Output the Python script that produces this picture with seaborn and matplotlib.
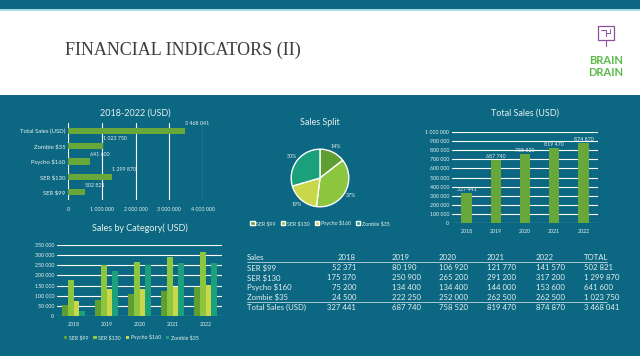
import matplotlib
matplotlib.use("Agg")
import matplotlib.pyplot as plt
from matplotlib.patches import Rectangle
import seaborn as sns
import pandas as pd

# data
years = ["2018", "2019", "2020", "2021", "2022"]
products = ["SER $99", "SER $130", "Psycho $160", "Zombie $35"]
ser99 = [52371, 80190, 106920, 121770, 141570]
ser130 = [175370, 250900, 265200, 291200, 317200]
psycho160 = [75200, 134400, 134400, 144000, 153600]
zombie35 = [24500, 222250, 252000, 262500, 262500]
total_by_year = [327441, 687740, 758520, 819470, 874870]
product_totals = [502821, 1299870, 641600, 1023750]
grand_total = 3468041

hbar_labels = ["Total Sales (USD)", "Zombie $35", "Psycho $160", "SER $130", "SER $99"]
hbar_values = [3468041, 1023750, 641600, 1299870, 502821]

teal = "#0c6882"
fg = "#e6f0ee"
green = "#68a83a"
palette = ["#5f9e33", "#8cc63f", "#c9d84a", "#1aa07a"]

sns.set_theme(style="white")
plt.rcParams["font.family"] = ["Lato", "DejaVu Sans"]

W, H = 640, 356
fig = plt.figure(figsize=(6.4, 3.56), dpi=100)


def px(x0, y0, x1, y1):
    return [x0 / W, 1 - y1 / H, (x1 - x0) / W, (y1 - y0) / H]


def fmt(v):
    return f"{v:,}".replace(",", " ")


# background bands
bg = fig.add_axes([0, 0, 1, 1])
bg.set_xlim(0, W)
bg.set_ylim(H, 0)
bg.axis("off")
bg.add_patch(Rectangle((0, 0), W, 9, color=teal, lw=0))
bg.add_patch(Rectangle((0, 9), W, 1.5, color="#a6dde4", lw=0))
bg.add_patch(Rectangle((0, 95), W, H - 95, color=teal, lw=0))
bg.text(65, 50, "FINANCIAL INDICATORS (II)", fontsize=13, color="#3b3f3f",
        family="Liberation Serif", va="center", ha="left")
# logo
purple = "#8a4fa0"
bg.add_patch(Rectangle((598, 26), 16, 14, fill=False, ec=purple, lw=0.9))
bg.plot([601, 606, 606], [30, 30, 36], color=purple, lw=0.7)
bg.plot([610, 610, 606], [29, 33, 33], color=purple, lw=0.7)
bg.plot([606, 606], [40, 46], color=purple, lw=0.8)
bg.text(606, 60, "BRAIN", fontsize=8, color="#5cb848", weight="bold", ha="center", va="center")
bg.text(606, 73, "DRAIN", fontsize=8, color="#5cb848", weight="bold", ha="center", va="center")


def style(ax):
    ax.set_facecolor("none")
    for s in ax.spines.values():
        s.set_visible(False)
    ax.tick_params(colors=fg, labelsize=3.8, length=0, pad=2)
    ax.set_xlabel("")
    ax.set_ylabel("")


# horizontal bar chart
ax1 = fig.add_axes(px(68, 123, 203, 200))
hdf = pd.DataFrame({"label": hbar_labels, "value": hbar_values})
sns.barplot(data=hdf, y="label", x="value", color=green, width=0.4, ax=ax1,
            zorder=3, linewidth=0, saturation=1)
style(ax1)
ax1.set_xlim(0, 4000000)
ax1.set_xticks([0, 1000000, 2000000, 3000000, 4000000])
ax1.set_xticklabels([fmt(v) for v in [0, 1000000, 2000000, 3000000, 4000000]])
ax1.xaxis.grid(True, color="white", lw=0.8)
ax1.tick_params(axis="y", labelsize=4.3)
ax1.tick_params(axis="x", pad=5)
for i, v in enumerate(hbar_values):
    ax1.text(v, i - 0.3, fmt(v), color=fg, fontsize=3.8, ha="left", va="bottom")
ax1.set_title("2018-2022 (USD)", color=fg, fontsize=6.5, pad=5)

# pie
ax2 = fig.add_axes(px(283, 142, 357, 214))
wedges, texts, autotexts = ax2.pie(
    product_totals, colors=palette, startangle=90, counterclock=False,
    autopct="%.0f%%", pctdistance=1.22,
    wedgeprops=dict(edgecolor="white", linewidth=1))
for t in autotexts:
    t.set_color(fg)
    t.set_fontsize(3.8)
ax2.set_aspect("equal")
ax2.set_title("Sales Split", color=fg, fontsize=6.5, pad=12)
fig.legend(wedges, products, loc="center", bbox_to_anchor=(320 / W, 1 - 223 / H),
           ncol=4, frameon=False, fontsize=3.8, labelcolor=fg, handlelength=0.8,
           handleheight=0.8, columnspacing=1.0, handletextpad=0.3)

# total sales chart
ax3 = fig.add_axes(px(452, 132, 598, 223))
tdf = pd.DataFrame({"year": years, "total": total_by_year})
sns.barplot(data=tdf, x="year", y="total", color=green, width=0.35, ax=ax3,
            zorder=3, linewidth=0, saturation=1)
style(ax3)
ticks3 = list(range(0, 1000001, 100000))
ax3.set_ylim(0, 1000000)
ax3.set_yticks(ticks3)
ax3.set_yticklabels([fmt(v) for v in ticks3])
ax3.yaxis.grid(True, color="white", lw=0.8, zorder=0)
ax3.tick_params(axis="x", pad=4)
for i, v in enumerate(total_by_year):
    ax3.text(i, v + 12000, fmt(v), color=fg, fontsize=3.8, ha="center", va="bottom", zorder=4)
ax3.set_title("Total Sales (USD)", color=fg, fontsize=6.5, pad=12)

# sales by category
ax4 = fig.add_axes(px(57, 245, 222, 316))
cdf = pd.DataFrame({"year": years * 4,
                    "series": [p for p in products for _ in years],
                    "value": ser99 + ser130 + psycho160 + zombie35})
sns.barplot(data=cdf, x="year", y="value", hue="series", hue_order=products,
            palette=palette, width=0.7, ax=ax4, zorder=3, linewidth=0, saturation=1)
style(ax4)
ticks4 = list(range(0, 350001, 50000))
ax4.set_ylim(0, 350000)
ax4.set_yticks(ticks4)
ax4.set_yticklabels([fmt(v) for v in ticks4])
ax4.yaxis.grid(True, color="white", lw=0.8, zorder=0)
ax4.tick_params(axis="x", pad=4)
ax4.legend(loc="center", bbox_to_anchor=(0.45, -0.3), ncol=4, frameon=False,
           fontsize=3.8, labelcolor=fg, handlelength=0.6, handleheight=0.6,
           columnspacing=1.0, handletextpad=0.3)
ax4.set_title("Sales by Category( USD)", color=fg, fontsize=6.5, pad=10)

# table
rows = [("SER $99", ser99, product_totals[0]),
        ("SER $130", ser130, product_totals[1]),
        ("Psycho $160", psycho160, product_totals[2]),
        ("Zombie $35", zombie35, product_totals[3]),
        ("Total Sales (USD)", total_by_year, grand_total)]
col_x = [392, 439, 487, 536]
fs = 5.6
bg.text(247, 258, "Sales", color=fg, fontsize=fs, va="center")
bg.text(356, 258, years[0], color=fg, fontsize=fs, va="center", ha="right")
for x, y in zip(col_x, years[1:]):
    bg.text(x, 258, y, color=fg, fontsize=fs, va="center")
bg.text(584, 258, "TOTAL", color=fg, fontsize=fs, va="center")
bg.plot([247, 607], [262, 262], color=fg, lw=0.5)
for r, (name, vals, tot) in enumerate(rows):
    y = 268 + r * 9.8
    bg.text(247, y, name, color=fg, fontsize=fs, va="center")
    bg.text(356, y, fmt(vals[0]), color=fg, fontsize=fs, va="center", ha="right")
    for x, v in zip(col_x, vals[1:]):
        bg.text(x, y, fmt(v), color=fg, fontsize=fs, va="center")
    bg.text(584, y, fmt(tot), color=fg, fontsize=fs, va="center")
bg.plot([247, 607], [302, 302], color=fg, lw=0.5)

fig.savefig("out.png", dpi=100, facecolor="white")
